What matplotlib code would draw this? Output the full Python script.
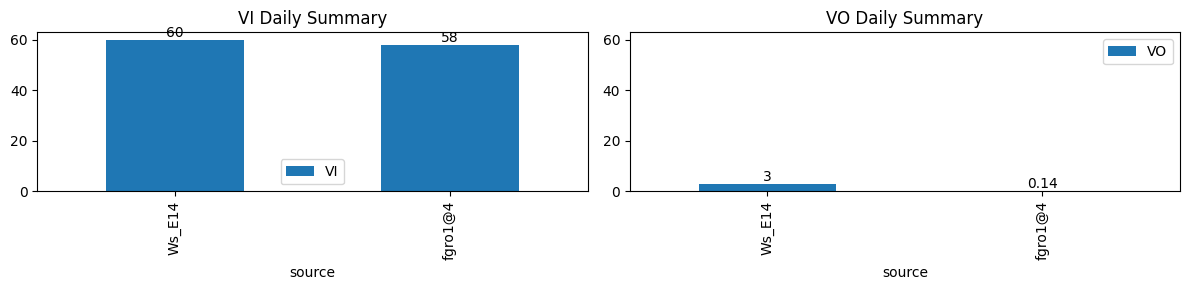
import matplotlib
matplotlib.use('Agg')
import matplotlib.pyplot as plt
import pandas as pd

sources = ['Ws_E14', 'fgro1@4']
vi_values = [60, 58]
vo_values = [3, 0.14]

df = pd.DataFrame({'source': sources, 'VI': vi_values, 'VO': vo_values}).set_index('source')

fig, axes = plt.subplots(1, 2, figsize=(12, 3), sharey=True)

for ax, col in zip(axes, ['VI', 'VO']):
	df[[col]].plot(kind='bar', ax=ax)
	ax.set_title('{} Daily Summary'.format(col))
	ax.bar_label(ax.containers[0], fmt='%g')
	ax.yaxis.set_tick_params(labelleft=True)

plt.tight_layout()
plt.savefig('out.png', dpi=100, bbox_inches='tight')
